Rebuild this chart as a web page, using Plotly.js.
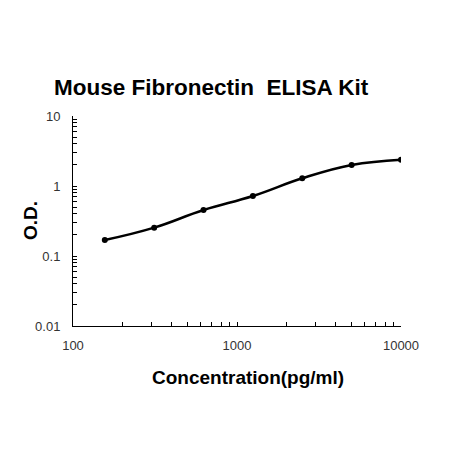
<!DOCTYPE html>
<html><head><meta charset="utf-8">
<script src="https://cdn.plot.ly/plotly-3.0.1.min.js"></script>
<style>html,body{margin:0;padding:0;background:#fff;}#chart{width:452px;height:450px;}</style>
</head><body><div id="chart"></div>
<script>
const concentration = [156.25, 312.5, 625, 1250, 2500, 5000, 10000];
const odValues = [0.169, 0.254, 0.454, 0.72, 1.29, 2.0, 2.38];
const xTickVals = [];
const xTickText = [];
[100, 1000].forEach(d => { for (let k = 1; k <= 9; k++) { xTickVals.push(d*k); xTickText.push(k === 1 ? String(d) : ''); } });
xTickVals.push(10000); xTickText.push('10000');
const yTickVals = [];
const yTickText = [];
[0.01, 0.1, 1].forEach(d => { for (let k = 1; k <= 9; k++) { yTickVals.push(d*k); yTickText.push(k === 1 ? String(d) : ''); } });
yTickVals.push(10); yTickText.push('10');

const font = 'Liberation Sans, Arial, sans-serif';
Plotly.newPlot('chart', [{
  x: concentration, y: odValues, type: 'scatter', mode: 'lines+markers',
  line: {shape: 'spline', color: '#000', width: 2.5, smoothing: 1.2},
  marker: {color: '#000', size: 6}
}], {
  width: 452, height: 450,
  margin: {l: 73, r: 51, t: 116, b: 124},
  paper_bgcolor: '#fff', plot_bgcolor: '#fff',
  showlegend: false,
  title: {text: '<b>Mouse Fibronectin  ELISA Kit</b>', font: {family: font, size: 22.5, color: '#000'}, x: 0.467, xanchor: 'center', y: 0.807, yanchor: 'middle'},
  xaxis: {type: 'log', range: [2, 4], tickvals: xTickVals, ticktext: xTickText, ticks: 'inside', ticklen: 4, tickcolor: '#000',
    showline: true, linecolor: '#000', linewidth: 1, showgrid: false, zeroline: false, ticklabelstandoff: 7,
    tickfont: {family: font, size: 13, color: '#333'}},
  yaxis: {type: 'log', range: [-2, 1], tickvals: yTickVals, ticktext: yTickText, ticks: 'inside', ticklen: 4, tickcolor: '#000',
    showline: true, linecolor: '#000', linewidth: 1, showgrid: false, zeroline: false, ticklabelstandoff: 9,
    tickfont: {family: font, size: 13, color: '#333'}},
  annotations: [
    {text: '<b>Concentration(pg/ml)</b>', xref: 'paper', yref: 'paper', x: (248-73)/328, y: -(377-326)/210, xanchor: 'center', yanchor: 'middle', showarrow: false, font: {family: font, size: 19, color: '#000'}},
    {text: '<b>O.D.</b>', xref: 'paper', yref: 'paper', x: -(73-30)/328, y: (326-221)/210, xanchor: 'center', yanchor: 'middle', textangle: -90, showarrow: false, font: {family: font, size: 19, color: '#000'}}
  ]
}, {staticPlot: true, displayModeBar: false});
</script></body></html>
